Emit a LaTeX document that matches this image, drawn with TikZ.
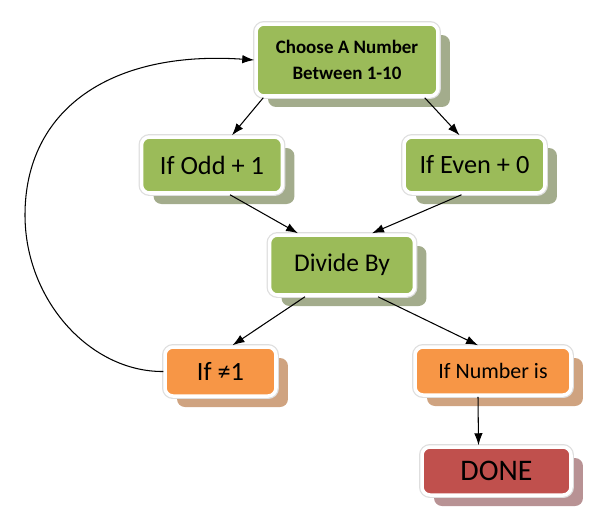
\documentclass[tikz,border=0pt]{standalone}
\usepackage{fontspec}
\setmainfont{Carlito}
\usetikzlibrary{shadows,arrows.meta}

\begin{document}
\begin{tikzpicture}[
    x=0.02cm, y=-0.02cm,
    box/.style={draw=white, line width=2pt, rounded corners=0.16cm, align=center, inner sep=0pt,
        preaction={draw=black!13, line width=3.4pt}},
    green/.style={drop shadow={shadow xshift=0.24cm, shadow yshift=-0.22cm, fill=colorGreenShadow, opacity=1},
        box, fill=colorGreen},
    orange/.style={drop shadow={shadow xshift=0.24cm, shadow yshift=-0.22cm, fill=colorOrangeShadow, opacity=1},
        box, fill=colorOrange},
    red/.style={drop shadow={shadow xshift=0.24cm, shadow yshift=-0.22cm, fill=colorRedShadow, opacity=1},
        box, fill=colorRed},
    flow/.style={-{Latex[length=2.4mm,width=1.7mm]}, line width=0.6pt}
    ]
    % Colori
    \definecolor{colorGreen}{RGB}{155, 187, 89}
    \definecolor{colorGreenShadow}{RGB}{163, 172, 140}
    \definecolor{colorOrange}{RGB}{247, 150, 70}
    \definecolor{colorOrangeShadow}{RGB}{207, 163, 128}
    \definecolor{colorRed}{RGB}{192, 80, 77}
    \definecolor{colorRedShadow}{RGB}{184, 146, 148}

    \useasboundingbox (0,0) rectangle (591,515);

    % Blocchi
    \node[green, minimum width=3.64cm, minimum height=1.44cm, font=\bfseries\fontsize{10.8}{14.5}\selectfont] (choose) at (347,60) {Choose A Number\\Between 1-10};

    \node[green, minimum width=2.82cm, minimum height=1.12cm, font=\fontsize{15}{18}\selectfont] (odd) at (212,165) {If Odd + 1};
    \node[green, minimum width=2.82cm, minimum height=1.12cm, font=\fontsize{15}{18}\selectfont] (even) at (474.5,165) {If Even + 0};

    \node[green, minimum width=2.9cm, minimum height=1.2cm, font=\fontsize{14.5}{18}\selectfont] (divide) at (342,265) {Divide By};

    \node[orange, minimum width=2.22cm, minimum height=0.98cm, font=\fontsize{15}{18}\selectfont] (notone) at (220.5,371.5) {If ≠1};
    \node[orange, minimum width=3.12cm, minimum height=0.96cm, font=\fontsize{12.5}{15}\selectfont] (number) at (493,371) {If Number is};

    \node[red, minimum width=2.98cm, minimum height=0.96cm, font=\fontsize{17}{20}\selectfont] (done) at (496.5,471) {DONE};

    % Frecce
    \draw[flow] ([xshift=0.18cm]choose.south west) -- ([xshift=0.4cm]odd.north);
    \draw[flow] ([xshift=-0.3cm]choose.south east) -- ([xshift=-0.3cm]even.north);
    \draw[flow] ([xshift=0.36cm]odd.south) -- ([xshift=-0.88cm]divide.north);
    \draw[flow] ([xshift=-0.26cm]even.south) -- ([xshift=0.6cm]divide.north);
    \draw[flow] ([xshift=-0.74cm]divide.south) -- ([xshift=0.24cm]notone.north);
    \draw[flow] ([xshift=0.72cm]divide.south) -- ([xshift=-0.3cm]number.north);
    \draw[flow] ([xshift=-0.3cm]number.south) -- ([xshift=-0.36cm]done.north);
    \draw[flow] (notone.west) .. controls (90,372) and (25,300) .. (25,215)
        .. controls (25,110) and (110,50) .. (choose.west);
\end{tikzpicture}
\end{document}
